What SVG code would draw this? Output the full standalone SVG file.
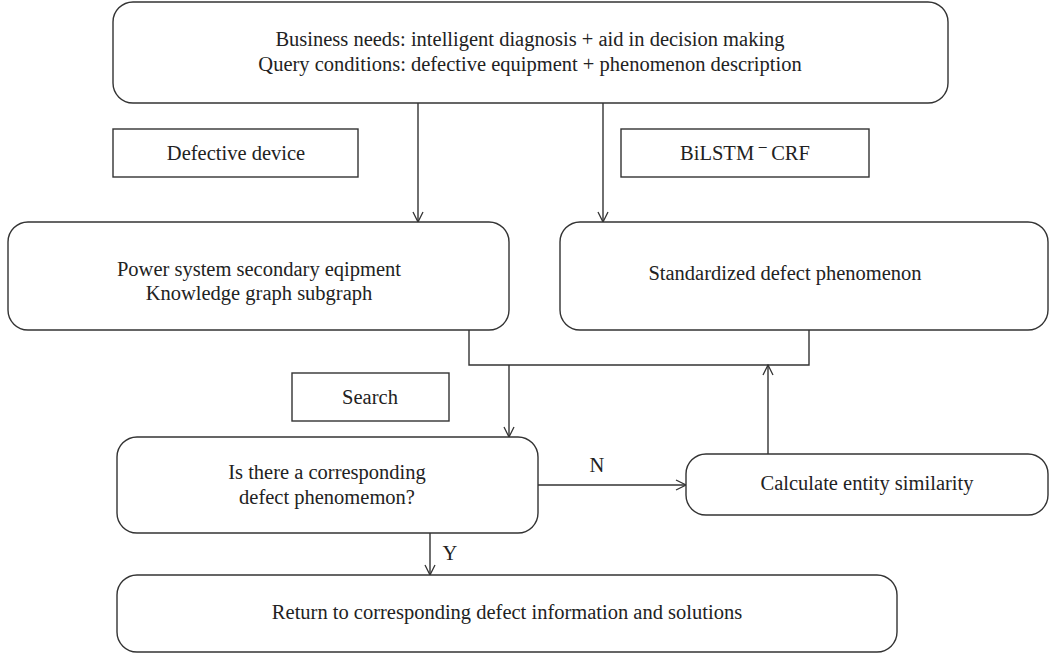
<svg xmlns="http://www.w3.org/2000/svg" width="1050" height="654" viewBox="0 0 1050 654">
  <defs>
    <marker id="arrow" viewBox="0 0 12 12" refX="11" refY="6" markerWidth="12" markerHeight="12" markerUnits="userSpaceOnUse" orient="auto">
      <path d="M1,1 L11,6 L1,11" fill="none" stroke="#333" stroke-width="1.3"/>
    </marker>
  </defs>
  <style>
    .box { fill: #fff; stroke: #333; stroke-width: 1.4; }
    .lbl { font-family: "Liberation Serif", "Times New Roman", serif; font-size: 20.5px; fill: #222; text-anchor: middle; }
    .edge { fill: none; stroke: #333; stroke-width: 1.4; }
  </style>
  <rect width="1050" height="654" fill="#fff"/>

  <g id="connectors">
    <line class="edge" x1="418" y1="103" x2="418" y2="222" marker-end="url(#arrow)"/>
    <line class="edge" x1="603" y1="103" x2="603" y2="222" marker-end="url(#arrow)"/>
    <polyline class="edge" points="469,330 469,365 809,365 809,330"/>
    <line class="edge" x1="509" y1="365" x2="509" y2="437" marker-end="url(#arrow)"/>
    <line class="edge" x1="538" y1="485" x2="686" y2="485" marker-end="url(#arrow)"/>
    <line class="edge" x1="768" y1="454" x2="768" y2="365" marker-end="url(#arrow)"/>
    <line class="edge" x1="430" y1="533" x2="430" y2="575" marker-end="url(#arrow)"/>
    <text class="lbl" x="597" y="472">N</text>
    <text class="lbl" x="450" y="560">Y</text>
  </g>

  <g id="node-request">
    <rect class="box" x="113" y="2" width="835" height="101" rx="20"/>
    <text class="lbl" x="530" y="46">Business needs: intelligent diagnosis + aid in decision making</text>
    <text class="lbl" x="530" y="71">Query conditions: defective equipment + phenomenon description</text>
  </g>

  <g id="node-defective-device">
    <rect class="box" x="113" y="129" width="245" height="48"/>
    <text class="lbl" x="236" y="160">Defective device</text>
  </g>

  <g id="node-bilstm">
    <rect class="box" x="621" y="129" width="248" height="48"/>
    <text class="lbl" x="745" y="160">BiLSTM <tspan dy="4">‾</tspan><tspan dy="-4"> CRF</tspan></text>
  </g>

  <g id="node-subgraph">
    <rect class="box" x="8" y="222" width="501" height="108" rx="20"/>
    <text class="lbl" x="259" y="276">Power system secondary eqipment</text>
    <text class="lbl" x="259" y="300">Knowledge graph subgraph</text>
  </g>

  <g id="node-standardized">
    <rect class="box" x="560" y="222" width="488" height="108" rx="20"/>
    <text class="lbl" x="785" y="280">Standardized defect phenomenon</text>
  </g>

  <g id="node-search">
    <rect class="box" x="292" y="373" width="157" height="48"/>
    <text class="lbl" x="370" y="404">Search</text>
  </g>

  <g id="node-decision">
    <rect class="box" x="117" y="437" width="421" height="96" rx="20"/>
    <text class="lbl" x="327" y="479">Is there a corresponding</text>
    <text class="lbl" x="327" y="504">defect phenomemon?</text>
  </g>

  <g id="node-similarity">
    <rect class="box" x="686" y="454" width="362" height="61" rx="20"/>
    <text class="lbl" x="867" y="490">Calculate entity similarity</text>
  </g>

  <g id="node-return">
    <rect class="box" x="117" y="575" width="780" height="77" rx="20"/>
    <text class="lbl" x="507" y="619">Return to corresponding defect information and solutions</text>
  </g>
</svg>
